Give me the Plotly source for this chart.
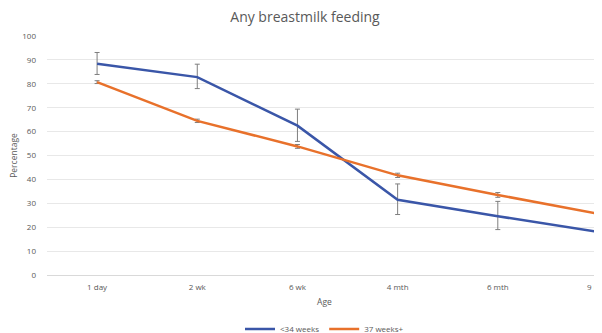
import plotly.graph_objects as go

ages = ["1 day", "2 wk", "6 wk", "4 mth", "6 mth", "9 mth"]
preterm = [88.4, 82.8, 62.5, 31.5, 24.6, 18.0]
preterm_hi = [93.1, 88.2, 69.4, 38.1, 30.8, 23.8]
preterm_lo = [83.9, 78.0, 55.9, 25.3, 19.0, 12.7]
term = [80.7, 64.5, 53.8, 41.7, 33.5, 25.6]
term_hi = [81.3, 65.2, 54.6, 42.6, 34.5, 26.6]
term_lo = [80.1, 63.8, 53.0, 40.8, 32.5, 24.6]

def errs(v, hi, lo):
    return [h - x for x, h in zip(v, hi)], [x - l for x, l in zip(v, lo)]

fig = go.Figure()
for name, v, hi, lo, col in [("<34 weeks", preterm, preterm_hi, preterm_lo, "#3A56A8"),
                             ("37 weeks+", term, term_hi, term_lo, "#E8712B")]:
    up, dn = errs(v, hi, lo)
    fig.add_trace(go.Scatter(
        x=ages, y=v, name=name, mode="lines", cliponaxis=False,
        line=dict(color=col, width=2.5),
        error_y=dict(type="data", symmetric=False, array=up, arrayminus=dn,
                     color="#7F7F7F", thickness=1, width=2.5),
    ))

# page is rendered with an 8px body margin, so the figure is 594x325
fig.update_layout(
    width=594, height=325,
    margin=dict(l=39, r=0, t=28, b=58, autoexpand=False),
    paper_bgcolor="white", plot_bgcolor="white",
    font=dict(family="Open Sans, Arial, sans-serif", color="#595959", size=8),
    title=dict(text="Any breastmilk feeding", x=0.5, xanchor="center", y=0.972, yanchor="middle",
               font=dict(size=14, color="#595959")),
    xaxis=dict(range=[-0.5, 5.04], showgrid=False, showline=True, linecolor="#D9D9D9",
               ticks="", tickfont=dict(size=8, color="#595959"), automargin=False,
               ticklabelstandoff=4,
               title=dict(text="Age", font=dict(size=8.5, color="#595959"), standoff=8)),
    yaxis=dict(range=[0, 100], dtick=10, showgrid=True, gridcolor="#E8E8E8", zeroline=False,
               tickfont=dict(size=8, color="#595959"), ticks="", ticklabelstandoff=10,
               automargin=False,
               title=dict(text="Percentage", font=dict(size=8.5, color="#595959"), standoff=4)),
    legend=dict(orientation="h", x=0.5, xanchor="center", y=-0.226, yanchor="middle",
                font=dict(size=8, color="#595959"), itemwidth=30,
                tracegroupgap=0),
    showlegend=True,
)
fig.write_html("out.html")
